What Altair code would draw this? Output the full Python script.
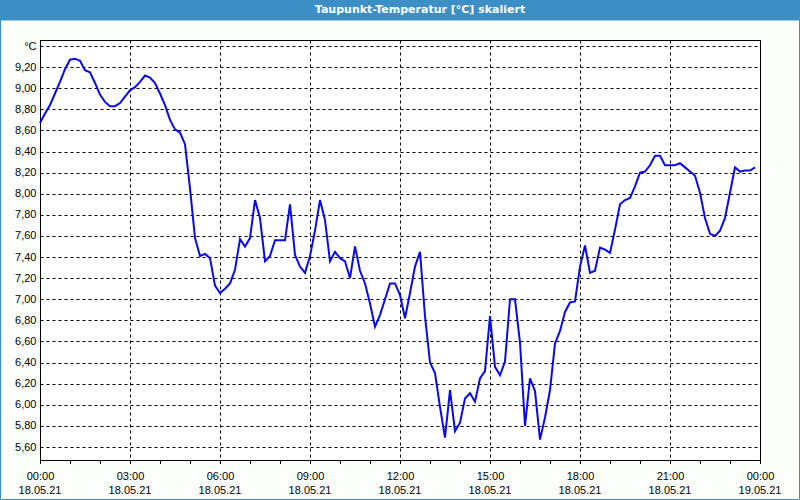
import altair as alt
import pandas as pd

# Dew point temperature, 10-minute readings, 18.05.21 00:00 .. 23:50
temps = [
    8.67, 8.76, 8.84, 8.95, 9.06, 9.18,   # 00h
    9.27, 9.28, 9.26, 9.17, 9.15, 9.05,   # 01h
    8.94, 8.87, 8.83, 8.83, 8.86, 8.92,   # 02h
    8.98, 9.01, 9.06, 9.12, 9.10, 9.05,   # 03h
    8.95, 8.84, 8.70, 8.61, 8.58, 8.47,   # 04h
    8.05, 7.58, 7.41, 7.43, 7.39, 7.13,   # 05h
    7.06, 7.10, 7.15, 7.28, 7.57, 7.50,   # 06h
    7.58, 7.94, 7.77, 7.36, 7.41, 7.56,   # 07h
    7.56, 7.56, 7.90, 7.42, 7.31, 7.25,   # 08h
    7.41, 7.65, 7.94, 7.75, 7.36, 7.45,   # 09h
    7.39, 7.36, 7.20, 7.50, 7.27, 7.15,   # 10h
    6.96, 6.74, 6.85, 7.00, 7.15, 7.15,   # 11h
    7.04, 6.82, 7.06, 7.31, 7.45, 6.84,   # 12h
    6.40, 6.30, 5.98, 5.69, 6.14, 5.75,   # 13h
    5.83, 6.06, 6.11, 6.03, 6.25, 6.32,   # 14h
    6.84, 6.36, 6.28, 6.41, 7.00, 7.00,   # 15h
    6.59, 5.80, 6.25, 6.13, 5.67, 5.88,   # 16h
    6.14, 6.58, 6.70, 6.88, 6.97, 6.98,   # 17h
    7.31, 7.51, 7.25, 7.27, 7.49, 7.47,   # 18h
    7.44, 7.66, 7.90, 7.94, 7.96, 8.07,   # 19h
    8.20, 8.21, 8.27, 8.36, 8.36, 8.27,   # 20h
    8.27, 8.27, 8.29, 8.25, 8.21, 8.17,   # 21h
    8.01, 7.77, 7.62, 7.60, 7.65, 7.77,   # 22h
    8.01, 8.25, 8.21, 8.22, 8.22, 8.25,   # 23h
]
start_time = "2021-05-18 00:00"
y_ticks = [5.6, 5.8, 6.0, 6.2, 6.4, 6.6, 6.8, 7.0, 7.2, 7.4, 7.6, 7.8,
           8.0, 8.2, 8.4, 8.6, 8.8, 9.0, 9.2, 9.4]
major_hours = [0, 3, 6, 9, 12, 15, 18, 21, 24]
date_labels = ["18.05.21", "18.05.21", "18.05.21", "18.05.21", "18.05.21",
               "18.05.21", "18.05.21", "18.05.21", "19.05.21"]
minor_hours = list(range(0, 25))
title_text = "Taupunkt-Temperatur [°C] skaliert"

base = pd.Timestamp(start_time)
fmt = "%Y-%m-%dT%H:%M:%S"
times = pd.date_range(start_time, periods=len(temps), freq="10min")
df = pd.DataFrame({"time": times.strftime(fmt), "temp": temps})
df_dates = pd.DataFrame({
    "time": [(base + pd.Timedelta(hours=h)).strftime(fmt) for h in major_hours],
    "label": date_labels,
})
df_minor = pd.DataFrame({
    "time": [(base + pd.Timedelta(hours=h)).strftime(fmt) for h in minor_hours],
})


def dt(h):
    return alt.DateTime(year=2021, month=5, date=18 + h // 24, hours=h % 24)


BLUE = "#3c8fc4"
FONT = "Liberation Sans"

x_scale = alt.Scale(domain=[dt(0), dt(24)])
y_scale = alt.Scale(domain=[5.477, 9.457], nice=False, zero=False)

x_axis = alt.Axis(
    title=None, values=[dt(h) for h in major_hours], format="%H:%M",
    grid=True, gridColor="black", gridDash=[3, 3], gridWidth=1,
    ticks=False, tickSize=0, domainColor="black",
    labelFont=FONT, labelFontSize=11, labelColor="black",
    labelPadding=10, labelFlush=False, labelOverlap=False,
)
y_axis = alt.Axis(
    title=None, values=y_ticks, format=".2f",
    labelExpr="datum.value > 9.39 ? '°C' : datum.label",
    ticks=False, tickSize=0,
    grid=True, gridColor="black", gridDash=[3, 3], gridWidth=1,
    domainColor="black",
    labelFont=FONT, labelFontSize=11, labelColor="black",
    labelPadding=4, labelFlush=False, labelOverlap=False,
)

deco = alt.Data(values=[{"k": 1}])

border = alt.Chart(deco).mark_rect(fill="transparent", stroke=BLUE, strokeWidth=1).encode(
    x=alt.value(-39.5), x2=alt.value(759.5), y=alt.value(-20), y2=alt.value(459.5)
)
title_bar = alt.Chart(deco).mark_rect(color=BLUE).encode(
    x=alt.value(-40), x2=alt.value(760), y=alt.value(-40), y2=alt.value(-20)
)
title = alt.Chart(deco).mark_text(
    text=title_text, color="white", font="DejaVu Sans", fontSize=11, fontWeight="bold",
    align="center", baseline="middle"
).encode(x=alt.value(380), y=alt.value(-30))

minor = alt.Chart(df_minor).mark_rule(color="black", strokeWidth=1, xOffset=0.5).encode(
    x=alt.X("time:T", scale=x_scale, axis=x_axis),
    y=alt.value(420), y2=alt.value(424),
)

dates = alt.Chart(df_dates).mark_text(
    font=FONT, fontSize=11, color="black", align="center", baseline="top"
).encode(
    x=alt.X("time:T", scale=x_scale, axis=x_axis),
    y=alt.value(444.5),
    text="label:N",
)

line = alt.Chart(df).mark_line(color="#0a0ae6", strokeWidth=2).encode(
    x=alt.X("time:T", scale=x_scale, axis=x_axis),
    y=alt.Y("temp:Q", scale=y_scale, axis=y_axis),
)

chart = alt.layer(border, title_bar, title, minor, dates, line).properties(
    width=720, height=420,
    padding={"left": 40, "top": 40, "right": 40, "bottom": 40},
    autosize=alt.AutoSizeParams(type="none"),
    background="#fcfefc",
).configure(
    locale={"number": {"decimal": ",", "thousands": ".", "grouping": [3], "currency": ["", " €"]}}
).configure_view(stroke="black", strokeWidth=1, fill="white")

chart.save("out.html", embed_options={"renderer": "svg", "actions": False})
